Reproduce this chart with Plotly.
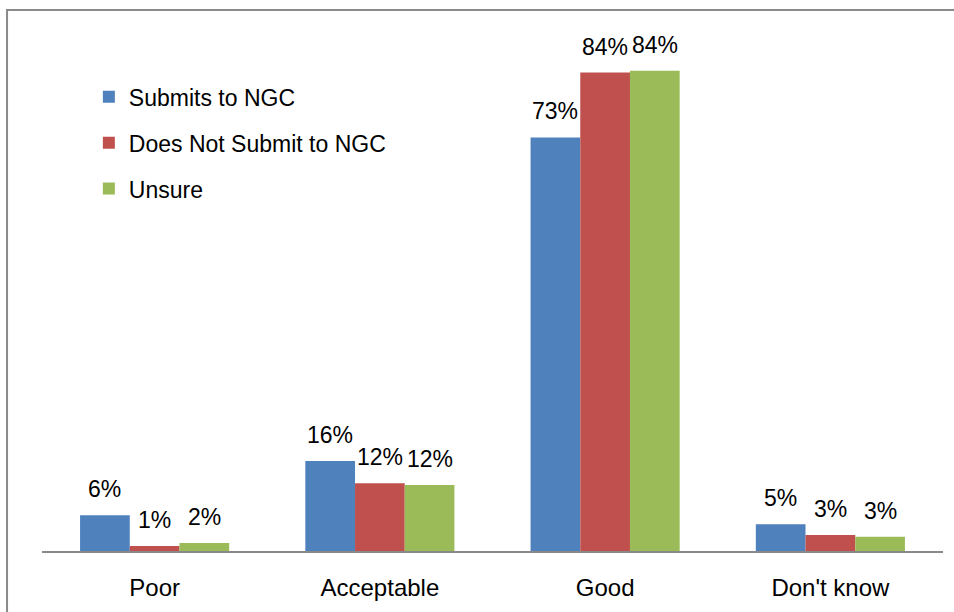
import plotly.graph_objects as go

categories = ["Poor", "Acceptable", "Good", "Don't know"]
series_names = ["Submits to NGC", "Does Not Submit to NGC", "Unsure"]
submits = [6.3, 15.8, 72.7, 4.7]
does_not = [0.9, 11.9, 84.1, 2.8]
unsure = [1.4, 11.6, 84.4, 2.5]
submits_labels = ["6%", "16%", "73%", "5%"]
does_not_labels = ["1%", "12%", "84%", "3%"]
unsure_labels = ["2%", "12%", "84%", "3%"]
colors = ["#4F81BD", "#C0504D", "#9BBB59"]

FONT = "Liberation Sans"
W, H = 954, 612
M = dict(l=42, r=11, t=39, b=59)
BARGAP = 0.338

fig = go.Figure()
all_vals = [submits, does_not, unsure]
all_labs = [submits_labels, does_not_labels, unsure_labels]
for name, vals, col in zip(series_names, all_vals, colors):
    fig.add_trace(go.Bar(
        x=categories, y=vals, name=name, marker_color=col,
        marker_line_width=0, legendgroup=name,
    ))

# data labels above each bar (offset within the group computed from layout)
plot_w = W - M["l"] - M["r"]
cat_w = plot_w / len(categories)
bar_w = cat_w * (1 - BARGAP) / len(series_names)
for i, (vals, labs) in enumerate(zip(all_vals, all_labs)):
    off = (i - (len(series_names) - 1) / 2) * bar_w
    for c, v, t in zip(categories, vals, labs):
        fig.add_annotation(x=c, y=v, text=t, showarrow=False, xref="x", yref="y",
                           xshift=off, yshift=26, yanchor="middle",
                           font=dict(size=23, family=FONT, color="black"))

fig.update_layout(
    width=W, height=H,
    margin=M,
    paper_bgcolor="white", plot_bgcolor="white",
    barmode="group", bargap=BARGAP, bargroupgap=0,
    font=dict(family=FONT, size=23, color="black"),
    showlegend=True,
    legend=dict(x=0.052, y=0.929, xanchor="left", yanchor="top",
                bgcolor="rgba(0,0,0,0)", tracegroupgap=13,
                font=dict(size=23, family=FONT, color="black")),
    xaxis=dict(showline=True, linecolor="#898989", linewidth=2, ticks="",
               tickfont=dict(size=24, family=FONT, color="black"), showgrid=False,
               ticklabelstandoff=14),
    yaxis=dict(range=[0, 90], showticklabels=False, showgrid=False,
               zeroline=False, showline=False, ticks=""),
)

fig.add_shape(type="rect", xref="paper", yref="paper",
              x0=-0.0388, y0=-0.3, x1=1.2, y1=1.0564,
              line=dict(color="#8a8a8a", width=2), fillcolor="rgba(0,0,0,0)", layer="above")

fig.write_html("out.html", config={"displayModeBar": False},
               post_script="document.body.style.margin='0';")
